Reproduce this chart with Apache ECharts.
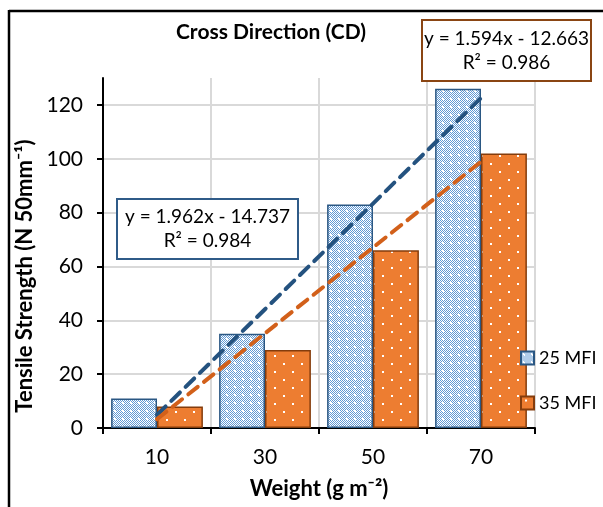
<!DOCTYPE html>
<html>
<head>
<meta charset="utf-8">
<script src="https://cdn.jsdelivr.net/npm/echarts@6/dist/echarts.min.js"></script>
<style>
  html, body { margin: 0; padding: 0; background: #fff; }
  #chart { width: 603px; height: 507px; }
</style>
</head>
<body>
<div id="chart"></div>
<script>
(function () {
    'use strict';

    var categories = ['10', '30', '50', '70'];
    var weights = [10, 30, 50, 70];
    var mfi25 = [11, 35, 83, 126];
    var mfi35 = [8, 29, 66, 102];
    var seriesNames = ['25 MFI', '35 MFI'];
    // trend line equations shown on the chart
    var trend25 = { slope: 1.962, intercept: -14.737, r2: '0.984' };
    var trend35 = { slope: 1.594, intercept: -12.663, r2: '0.986' };
    var yTicks = { min: 0, max: 130, interval: 20 };

    var FONT = 'Lato, "Open Sans", sans-serif';

    function bluePattern() {
        var c = document.createElement('canvas');
        c.width = 8; c.height = 8;
        var ctx = c.getContext('2d');
        ctx.fillStyle = '#ffffff';
        ctx.fillRect(0, 0, 8, 8);
        ctx.fillStyle = '#6199d4';
        for (var y = 0; y < 8; y++) {
            for (var x = 0; x < 8; x++) {
                if ((x + y) % 2 === 0) ctx.fillRect(x, y, 1, 1);
            }
        }
        ctx.fillStyle = '#ffffff';
        ctx.fillRect(2, 2, 2, 2);
        return c;
    }

    function orangePattern() {
        var c = document.createElement('canvas');
        c.width = 18; c.height = 16;
        var ctx = c.getContext('2d');
        ctx.fillStyle = '#ed7d31';
        ctx.fillRect(0, 0, 18, 16);
        ctx.fillStyle = '#ffffff';
        ctx.fillRect(4, 3, 2, 2);
        ctx.fillRect(13, 11, 2, 2);
        return c;
    }

    function trendLine(t) {
        return weights.map(function (w) { return +(t.slope * w + t.intercept).toFixed(3); });
    }

    function eqText(t) {
        return 'y = ' + t.slope.toFixed(3) + 'x - ' + Math.abs(t.intercept).toFixed(3) +
            '\nR² = ' + t.r2;
    }

    function eqBox(x, y, w, h, border, t) {
        return {
            type: 'group', left: x, top: y, z: 100,
            children: [
                { type: 'rect', z: 100, shape: { x: 0, y: 0, width: w, height: h },
                  style: { fill: '#fff', stroke: border, lineWidth: 2 } },
                { type: 'text', z: 101, x: w / 2, y: h / 2,
                  style: { text: eqText(t), fill: '#000', font: '19px ' + FONT,
                           align: 'center', verticalAlign: 'middle', lineHeight: 24 } }
            ]
        };
    }

    var chart = echarts.init(document.getElementById('chart'));

    chart.setOption({
        backgroundColor: '#fff',
        animation: false,
        textStyle: { fontFamily: FONT },
        grid: { left: 103, right: 68, top: 78, bottom: 79 },
        legend: {
            data: seriesNames,
            orient: 'vertical',
            left: 515, top: 344,
            itemWidth: 13, itemHeight: 13, itemGap: 27,
            icon: 'rect',
            textStyle: { fontSize: 18, color: '#000', fontFamily: FONT }
        },
        xAxis: {
            type: 'category',
            data: categories,
            name: 'Weight (g m⁻²)',
            nameLocation: 'middle',
            nameGap: 50,
            nameTextStyle: { fontSize: 22, fontWeight: 'bold', color: '#000', fontFamily: FONT },
            axisLine: { lineStyle: { color: '#000', width: 2 } },
            axisTick: { show: true, length: 6, lineStyle: { color: '#000', width: 2 } },
            axisLabel: { fontSize: 21, color: '#000', margin: 19 },
            splitLine: { show: true, lineStyle: { color: '#d9d9d9', width: 2 } }
        },
        yAxis: {
            type: 'value',
            min: yTicks.min, max: yTicks.max, interval: yTicks.interval,
            name: 'Tensile Strength (N 50mm⁻¹)',
            nameLocation: 'middle',
            nameGap: 56,
            nameTextStyle: { fontSize: 22, fontWeight: 'bold', color: '#000', fontFamily: FONT,
                             padding: [0, 46, 0, 0] },
            axisLine: { show: true, lineStyle: { color: '#000', width: 2 } },
            axisTick: { show: true, length: 6, lineStyle: { color: '#000', width: 2 } },
            axisLabel: { fontSize: 21, color: '#000', margin: 20, showMaxLabel: false },
            splitLine: { show: true, showMaxLine: false, lineStyle: { color: '#d9d9d9', width: 2 } }
        },
        series: [
            {
                name: seriesNames[0], type: 'bar', data: mfi25,
                barGap: '0%', barCategoryGap: '15%',
                itemStyle: {
                    color: { image: bluePattern(), repeat: 'repeat' },
                    borderColor: '#2a5783', borderWidth: 1.5
                }
            },
            {
                name: seriesNames[1], type: 'bar', data: mfi35,
                barGap: '0%', barCategoryGap: '15%',
                itemStyle: {
                    color: { image: orangePattern(), repeat: 'repeat' },
                    borderColor: '#843c0c', borderWidth: 1.5
                }
            },
            {
                name: 'trend25', type: 'line', data: trendLine(trend25),
                symbol: 'none', z: 5,
                lineStyle: { color: '#24527f', width: 4, type: [12, 8], cap: 'round' }
            },
            {
                name: 'trend35', type: 'line', data: trendLine(trend35),
                symbol: 'none', z: 5,
                lineStyle: { color: '#d2601a', width: 4, type: [12, 8], cap: 'round' }
            }
        ],
        graphic: [
            { type: 'text', left: 176, top: 22, z: 100,
              style: { text: 'Cross Direction (CD)', fill: '#000',
                       font: 'bold 21px ' + FONT } },
            eqBox(116, 198, 181, 60, '#2f5b88', trend25),
            eqBox(421, 19, 169, 61, '#8a4513', trend35),
            { type: 'line', z: 100, shape: { x1: 9, y1: 11, x2: 603, y2: 11 },
              style: { stroke: '#000', lineWidth: 2.5 } },
            { type: 'line', z: 100, shape: { x1: 9, y1: 10, x2: 9, y2: 507 },
              style: { stroke: '#000', lineWidth: 2.5 } }
        ]
    });
})();
</script>
</body>
</html>
